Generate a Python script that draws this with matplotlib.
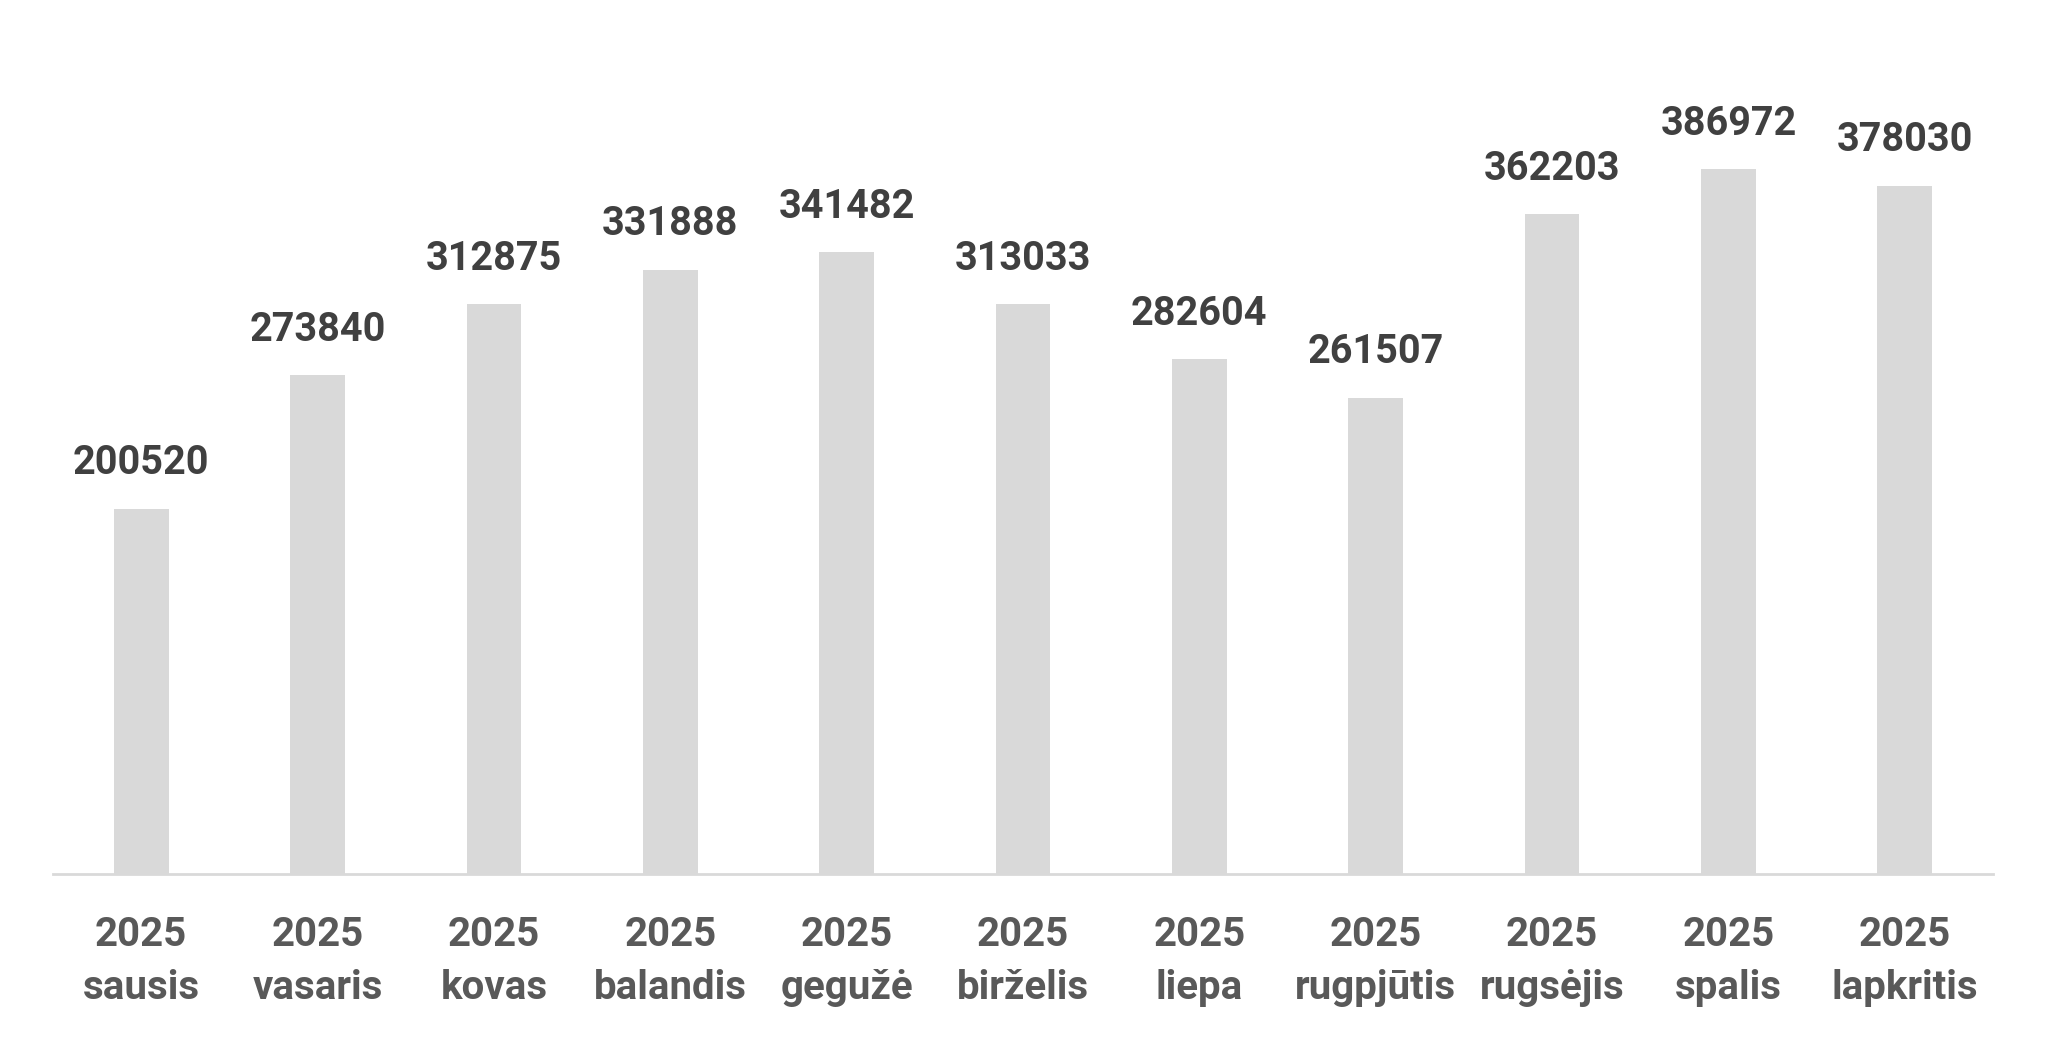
import matplotlib.pyplot as plt
import numpy as np

# =============================================================================
# Data
# =============================================================================
years = ["2025"] * 11
months = ["sausis", "vasaris", "kovas", "balandis", "gegužė", "birželis",
          "liepa", "rugpjūtis", "rugsėjis", "spalis", "lapkritis"]
values = [200520, 273840, 312875, 331888, 341482, 313033,
          282604, 261507, 362203, 386972, 378030]

# =============================================================================
# Plot
# =============================================================================
plt.rcParams['font.family'] = ['Roboto', 'DejaVu Sans']

fig = plt.figure(figsize=(20.53, 10.54), dpi=100)
ax = fig.add_axes([53/2053, 180/1054, 1940/2053, 874/1054])

x = np.arange(len(values))
bars = ax.bar(x, values, width=0.31, color='#d9d9d9', zorder=2)

for xi, v in zip(x, values):
    ax.annotate(str(v), (xi, v), xytext=(0, 19), textcoords='offset points',
                ha='center', va='bottom', fontsize=28.5, fontweight='bold',
                color='#404040')

ax.set_xlim(-0.5, len(values) - 0.5)
ax.set_ylim(0, 480000)

labels = [y + "\n" + m for y, m in zip(years, months)]
ax.set_xticks(x)
ax.set_xticklabels(labels, fontsize=29, fontweight='bold', color='#595959',
                   linespacing=1.5)
ax.tick_params(axis='x', length=0, pad=30)
ax.set_yticks([])

for s in ['top', 'right', 'left']:
    ax.spines[s].set_visible(False)
ax.spines['bottom'].set_color('#d9d9d9')
ax.spines['bottom'].set_linewidth(2)

fig.savefig('out.png', dpi=100)
